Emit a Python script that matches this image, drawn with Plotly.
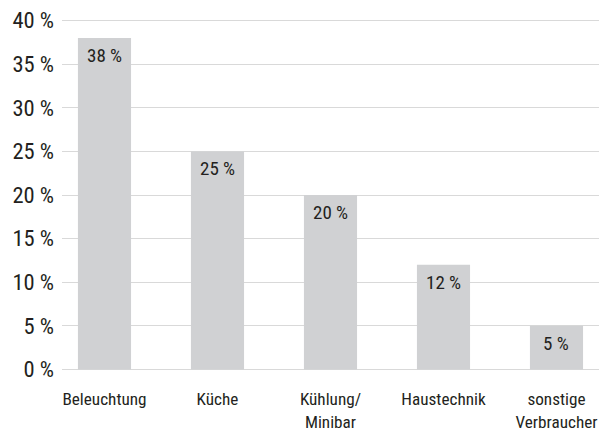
import plotly.graph_objects as go

categories = ["Beleuchtung", "Küche", "Kühlung/<br>Minibar", "Haustechnik", "sonstige<br>Verbraucher"]
values = [38, 25, 20, 12, 5]
value_labels = ["38 %", "25 %", "20 %", "12 %", "5 %"]
y_ticks = [0, 5, 10, 15, 20, 25, 30, 35, 40]
y_tick_labels = ["0 %", "5 %", "10 %", "15 %", "20 %", "25 %", "30 %", "35 %", "40 %"]

FONT = "Roboto, Open Sans, sans-serif"
TXT = "#231f20"


def cond(s):
    return "<br>".join('<span style="font-stretch:condensed">' + p + "</span>" for p in s.split("<br>"))


fig = go.Figure()
fig.add_trace(go.Bar(
    x=list(range(len(categories))), y=values,
    marker=dict(color="#d0d1d3", line=dict(width=0)),
    width=0.47, hoverinfo="skip",
))
for i, (v, lab) in enumerate(zip(values, value_labels)):
    fig.add_annotation(x=i, y=v, text=cond(lab), showarrow=False, yanchor="top", yshift=-4,
                       font=dict(family=FONT, size=19, color=TXT))

# page body has an 8px margin, so the figure is sized/offset to compensate
fig.update_layout(
    width=599, height=422,
    margin=dict(l=54, r=7, t=10.4, b=58.4, autoexpand=False),
    paper_bgcolor="white", plot_bgcolor="white",
    showlegend=False,
    font=dict(family=FONT, color=TXT),
    xaxis=dict(
        range=[-0.376, 4.385], automargin=False,
        tickmode="array", tickvals=list(range(len(categories))),
        ticktext=[cond(c) for c in categories],
        showgrid=False, zeroline=False, showline=False, ticks="",
        tickfont=dict(family=FONT, size=17.2, color=TXT),
        ticklabelstandoff=15, ticklabeloverflow="allow",
    ),
    yaxis=dict(
        range=[-0.3, 40.3], automargin=False,
        tickmode="array", tickvals=y_ticks, ticktext=[cond(t) for t in y_tick_labels],
        showgrid=True, gridcolor="#d9d9d9", gridwidth=1.3,
        zeroline=False, showline=False, ticks="",
        tickfont=dict(family=FONT, size=22.5, color=TXT),
        ticklabelstandoff=7, ticklabeloverflow="allow",
    ),
)

fig.write_html("out.html")
